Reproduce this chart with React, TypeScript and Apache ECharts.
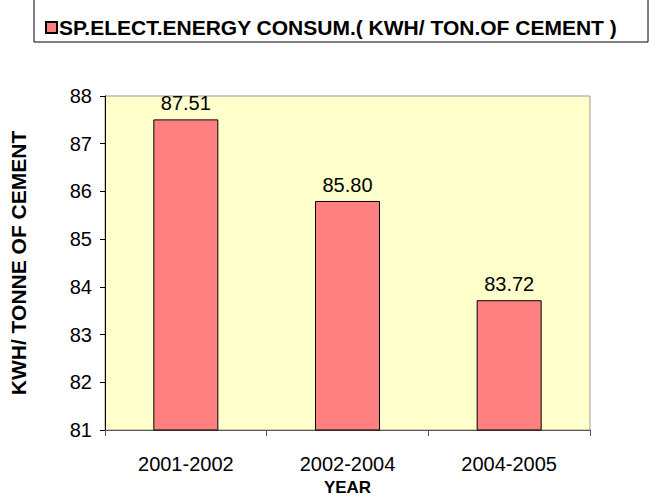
import React, { useEffect, useRef } from "react";
import * as echarts from "echarts";

const categories = ["2001-2002", "2002-2004", "2004-2005"];
const values = [87.51, 85.8, 83.72];
const seriesName = "SP.ELECT.ENERGY CONSUM.( KWH/ TON.OF CEMENT )";
const yAxisName = "KWH/ TONNE OF CEMENT";
const xAxisName = "YEAR";

export default function App() {
  const ref = useRef<HTMLDivElement>(null);
  useEffect(() => {
    if (!ref.current) return;
    const chart = echarts.init(ref.current, undefined, { renderer: "svg" });
    const font = "Arial, 'Liberation Sans', sans-serif";
    chart.setOption({
      animation: false,
      backgroundColor: "#ffffff",
      textStyle: { fontFamily: font },
      graphic: [
        {
          type: "rect",
          shape: { x: 34, y: -1, width: 614, height: 43 },
          style: { fill: "#ffffff", stroke: "#000000", lineWidth: 1 },
          z: 0,
        },
      ],
      legend: {
        data: [seriesName],
        left: 40,
        top: 12,
        icon: "rect",
        itemWidth: 11,
        itemHeight: 11,
        itemGap: 0,
        textStyle: { fontFamily: font, fontSize: 21, fontWeight: "bold", color: "#000", padding: [0, 0, 0, -3] },
        z: 5,
      },
      grid: {
        left: 105,
        right: 71,
        top: 96,
        bottom: 74,
        show: true,
        backgroundColor: "#FFFFCC",
        borderColor: "#999999",
        borderWidth: 1,
      },
      xAxis: {
        type: "category",
        data: categories,
        name: xAxisName,
        nameLocation: "middle",
        nameGap: 49,
        nameTextStyle: { fontFamily: font, fontSize: 17, fontWeight: "bold", color: "#000" },
        axisLine: { show: true, lineStyle: { color: "#555555", width: 1 } },
        axisTick: { show: true, length: 6, lineStyle: { color: "#555555" } },
        axisLabel: { fontFamily: font, fontSize: 20, color: "#000", margin: 24 },
      },
      yAxis: {
        type: "value",
        min: 81,
        max: 88,
        interval: 1,
        name: yAxisName,
        nameLocation: "middle",
        nameGap: 76,
        nameRotate: 90,
        nameTextStyle: { fontFamily: font, fontSize: 21, fontWeight: "bold", color: "#000" },
        axisLine: { show: true, lineStyle: { color: "#000000", width: 1 } },
        axisTick: { show: true, length: 5, lineStyle: { color: "#000000" } },
        axisLabel: { fontFamily: font, fontSize: 20, color: "#000", margin: 13 },
        splitLine: { show: false },
      },
      series: [
        {
          name: seriesName,
          type: "bar",
          data: values,
          barWidth: 65,
          itemStyle: { color: "#FF8080", borderColor: "#000000", borderWidth: 1 },
          label: {
            show: true,
            position: "top",
            distance: 6,
            fontFamily: font,
            fontSize: 20,
            color: "#000",
            formatter: (p: any) => Number(p.value).toFixed(2),
          },
        },
      ],
    });
    return () => chart.dispose();
  }, []);
  return <div ref={ref} style={{ width: 661, height: 504, position: "absolute", left: 0, top: 0 }} />;
}
